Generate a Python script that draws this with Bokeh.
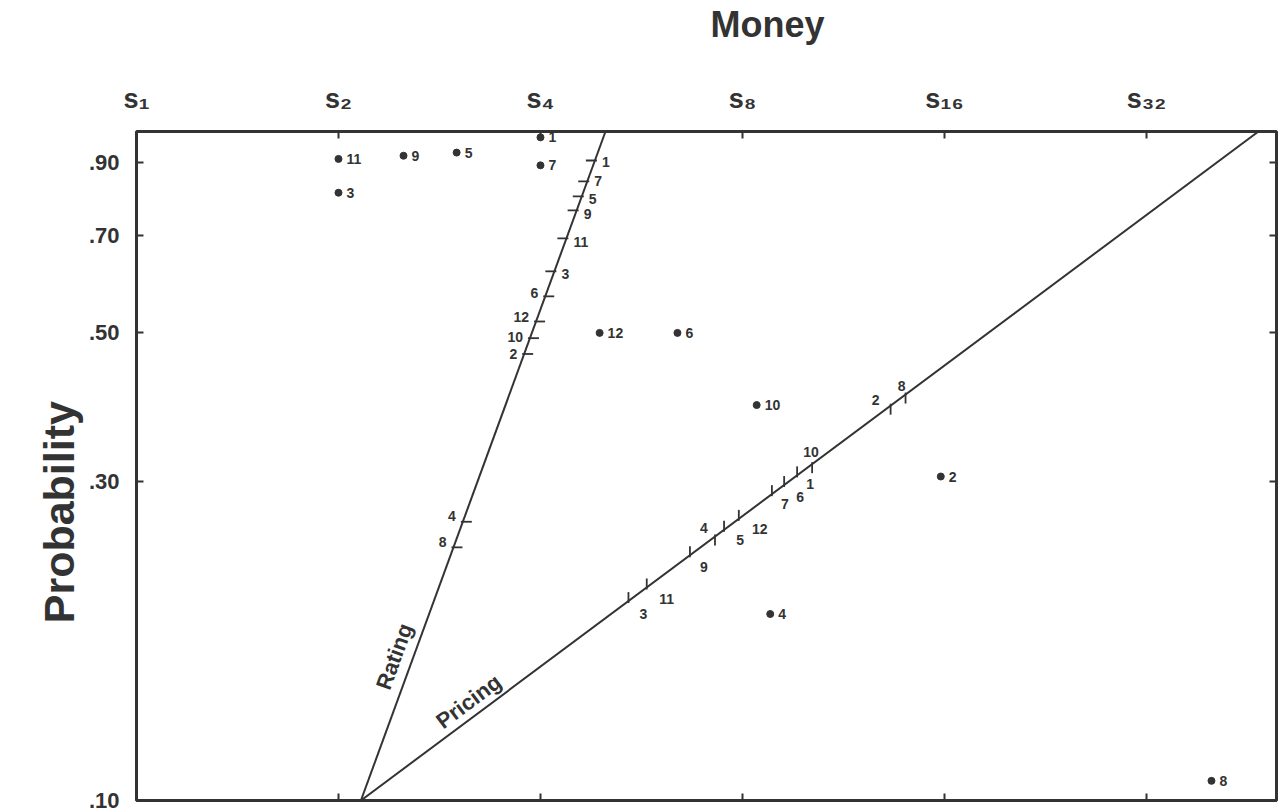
import math

from bokeh.core.properties import value
from bokeh.embed import file_html
from bokeh.models import ColumnDataSource, FixedTicker, LogAxis, Range1d
from bokeh.plotting import figure
from bokeh.resources import INLINE

# ---------------------------------------------------------------- data
# twelve bets: amount to win (in units s) and probability of winning
bet_labels = ["1", "2", "3", "4", "5", "6", "7", "8", "9", "10", "11", "12"]
bet_money = [4.0, 15.8, 2.0, 8.8, 3.0, 6.4, 4.0, 40.0, 2.5, 8.4, 2.0, 4.9]
bet_prob = [0.98, 0.305, 0.81, 0.19, 0.93, 0.50, 0.89, 0.107, 0.92, 0.39, 0.91, 0.50]

# end points of the two scale lines (money, probability)
rating_line_money = [2.16, 5.0]
rating_line_prob = [0.10, 1.00]
pricing_line_money = [2.16, 47.0]
pricing_line_prob = [0.10, 1.00]

# scale value of every bet on each line:
# rating line indexed by its probability coordinate, pricing line by its money coordinate
rating_tick_prob = [0.905, 0.465, 0.618, 0.261, 0.800, 0.567,
                    0.842, 0.239, 0.762, 0.491, 0.692, 0.520]
pricing_tick_money = [9.65, 13.3, 5.41, 7.28, 7.51, 9.23,
                      8.85, 14.0, 6.68, 10.16, 5.76, 7.90]

money_ticks = [1, 2, 4, 8, 16, 32]
money_tick_labels = ["s\u2081", "s\u2082", "s\u2084", "s\u2088", "s\u2081\u2086", "s\u2083\u2082"]
prob_ticks = [0.1, 0.3, 0.5, 0.7, 0.9]
prob_tick_labels = [".10", ".30", ".50", ".70", ".90"]

# ---------------------------------------------------------------- layout / style
WIDTH, HEIGHT = 1280, 812
B_LEFT, B_RIGHT, B_TOP, B_BOTTOM = 136, 4, 130, 12
X_START, X_END = 1.0, 50.0
Y_START, Y_END = 0.1, 1.0
INK = "#333333"
FONT = "Liberation Sans"

frame_w = WIDTH - B_LEFT - B_RIGHT
frame_h = HEIGHT - B_TOP - B_BOTTOM
kx = frame_w / math.log(X_END / X_START)   # pixels per ln-unit of money
ky = frame_h / math.log(Y_END / Y_START)   # pixels per ln-unit of probability


def shift(m, p, dx, dy):
    """Move a data point by (dx, dy) screen pixels (dy upwards)."""
    return m * math.exp(dx / kx), p * math.exp(dy / ky)


def line_at(ms, ps, t):
    return ms[0] * (ms[1] / ms[0]) ** t, ps[0] * (ps[1] / ps[0]) ** t


def screen_angle(ms, ps):
    return math.atan2(ky * math.log(ps[1] / ps[0]), kx * math.log(ms[1] / ms[0]))


rating_angle = screen_angle(rating_line_money, rating_line_prob)
pricing_angle = screen_angle(pricing_line_money, pricing_line_prob)

p = figure(width=WIDTH, height=HEIGHT, title=None,
           x_axis_type="log", y_axis_type="log",
           x_range=Range1d(X_START, X_END), y_range=Range1d(Y_START, Y_END),
           x_axis_location=None, y_axis_location=None,
           min_border_left=B_LEFT, min_border_right=B_RIGHT,
           min_border_top=B_TOP, min_border_bottom=B_BOTTOM,
           output_backend="svg", toolbar_location=None)
p.grid.visible = False
p.outline_line_color = INK
p.outline_line_width = 3
p.background_fill_color = "white"
p.border_fill_color = "white"


def make_axis(ticks, labels, size, standoff, tick_len=7):
    ax = LogAxis(ticker=FixedTicker(ticks=ticks, minor_ticks=[]),
                 major_label_overrides=dict(zip(ticks, labels)))
    ax.axis_line_color = None
    ax.major_tick_in = tick_len
    ax.major_tick_out = 0
    ax.major_tick_line_color = INK if tick_len else None
    ax.major_tick_line_width = 2
    ax.minor_tick_line_color = None
    ax.major_label_text_font = FONT
    ax.major_label_text_font_style = "bold"
    ax.major_label_text_color = INK
    ax.major_label_text_font_size = size
    ax.major_label_standoff = standoff
    return ax


p.add_layout(make_axis(prob_ticks, prob_tick_labels, "22px", 17), "left")
p.add_layout(make_axis(prob_ticks, [""] * len(prob_ticks), "1px", 0), "right")
p.add_layout(make_axis(money_ticks, money_tick_labels, "27px", 18), "above")
p.add_layout(make_axis(money_ticks, [""] * len(money_ticks), "1px", 0), "below")

# axis names: outer guide rows holding a single, tick-less label each
money_name_at = shift(X_START, Y_END, 631, 0)[0]
prob_name_at = shift(X_START, Y_START, 0, 400)[1]
money_name = make_axis([money_name_at], ["Money"], "36px", 36, tick_len=0)
p.add_layout(money_name, "above")
prob_name = make_axis([prob_name_at], ["Probability"], "43px", 26, tick_len=0)
prob_name.major_label_orientation = math.pi / 2
p.add_layout(prob_name, "left")

# ---------------------------------------------------------------- scale lines
p.line(rating_line_money, rating_line_prob, line_color=INK, line_width=2)
p.line(pricing_line_money, pricing_line_prob, line_color=INK, line_width=2)

# tick marks and labels on the rating line (horizontal ticks)
rating_side = {"1": 1, "7": 1, "5": 1, "9": 1, "11": 1, "3": 1}
rating_label_dy = {"1": -1, "7": 0, "5": -3, "9": -4, "11": -4, "3": -3,
                   "6": 3, "12": 5, "10": 1, "2": 0, "4": 6, "8": 5}
rt = dict(x0=[], y0=[], x1=[], y1=[])
rl = dict(x=[], y=[], text=[], align=[])
for lab, pr in zip(bet_labels, rating_tick_prob):
    t = math.log(pr / rating_line_prob[0]) / math.log(rating_line_prob[1] / rating_line_prob[0])
    m, q = line_at(rating_line_money, rating_line_prob, t)
    side = rating_side.get(lab, -1)          # +1: label on the right, tick to the left
    a = shift(m, q, 2 * side, 0)
    b = shift(m, q, -9 * side, 0)
    rt["x0"].append(a[0]); rt["y0"].append(a[1]); rt["x1"].append(b[0]); rt["y1"].append(b[1])
    lx, ly = shift(m, q, 7 * side, rating_label_dy[lab])
    rl["x"].append(lx); rl["y"].append(ly); rl["text"].append(lab)
    rl["align"].append("left" if side > 0 else "right")
p.segment("x0", "y0", "x1", "y1", source=ColumnDataSource(rt), line_color=INK, line_width=1.8)
p.text("x", "y", text="text", text_align="align", source=ColumnDataSource(rl),
       text_baseline="middle", text_font=value(FONT), text_font_style="bold",
       text_font_size="14px", text_color=INK)

# tick marks and labels on the pricing line (vertical ticks)
pricing_label_off = {"3": (15, -13), "11": (20, -12), "9": (14, -12), "5": (16, -10),
                     "12": (21, -10), "7": (13, -10), "6": (16, -12), "1": (13, -9),
                     "10": (-1, 12), "2": (-15, 6), "8": (-4, 9), "4": (-11, 9)}
pt = dict(x0=[], y0=[], x1=[], y1=[])
pl = dict(x=[], y=[], text=[])
for lab, mo in zip(bet_labels, pricing_tick_money):
    t = math.log(mo / pricing_line_money[0]) / math.log(pricing_line_money[1] / pricing_line_money[0])
    m, q = line_at(pricing_line_money, pricing_line_prob, t)
    dx, dy = pricing_label_off[lab]
    up = -1 if dy > 0 else 1                 # tick on the side away from the label
    a = shift(m, q, 0, -2 * up)
    b = shift(m, q, 0, 9 * up)
    pt["x0"].append(a[0]); pt["y0"].append(a[1]); pt["x1"].append(b[0]); pt["y1"].append(b[1])
    lx, ly = shift(m, q, dx, dy)
    pl["x"].append(lx); pl["y"].append(ly); pl["text"].append(lab)
p.segment("x0", "y0", "x1", "y1", source=ColumnDataSource(pt), line_color=INK, line_width=1.8)
p.text("x", "y", text="text", source=ColumnDataSource(pl),
       text_align="center", text_baseline="middle", text_font=value(FONT),
       text_font_style="bold", text_font_size="14px", text_color=INK)

# line names, written along each line
names = dict(x=[], y=[], text=[], angle=[])
for name, ms, ps, t, d, ang in [("Rating", rating_line_money, rating_line_prob, 0.206, 18, rating_angle),
                                ("Pricing", pricing_line_money, pricing_line_prob, 0.13, 15, pricing_angle)]:
    m, q = line_at(ms, ps, t)
    nx, ny = shift(m, q, -d * math.sin(ang), d * math.cos(ang))
    names["x"].append(nx); names["y"].append(ny); names["text"].append(name); names["angle"].append(ang)
p.text("x", "y", text="text", angle="angle", source=ColumnDataSource(names),
       text_align="center", text_baseline="middle", text_font=value(FONT),
       text_font_style="bold", text_font_size="22px", text_color=INK)

# ---------------------------------------------------------------- the bets
bets = ColumnDataSource(dict(x=bet_money, y=bet_prob, text=bet_labels))
p.scatter("x", "y", source=bets, size=7, color=INK)
p.text("x", "y", text="text", source=bets, x_offset=8,
       text_align="left", text_baseline="middle", text_font=value(FONT),
       text_font_style="bold", text_font_size="14px", text_color=INK)

open("out.html", "w").write(file_html(p, INLINE))
